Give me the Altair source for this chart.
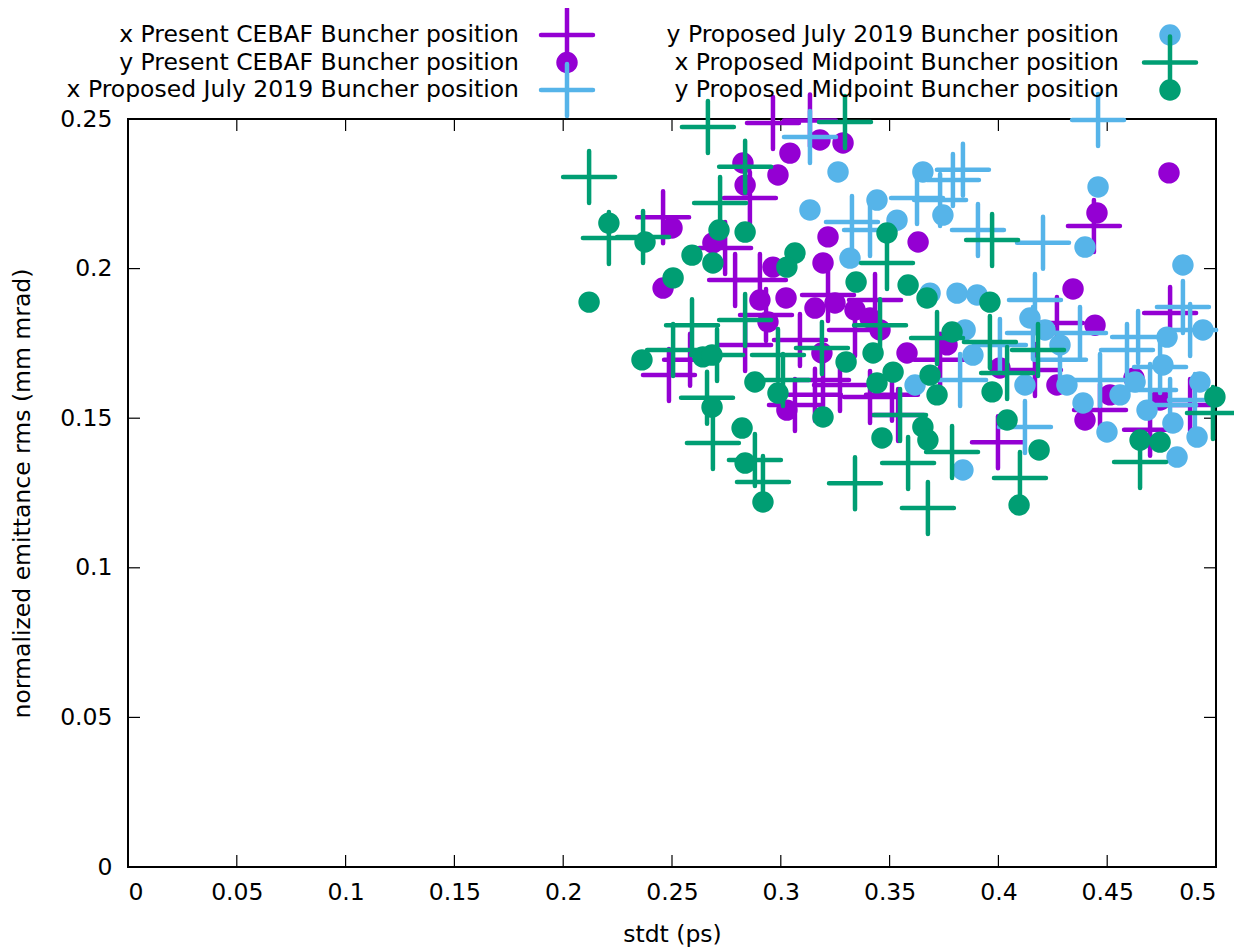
import altair as alt
import pandas as pd

# ---------------- data ----------------
present_x_stdt = [0.2459, 0.2486, 0.2583, 0.2744, 0.2858, 0.2790, 0.2904, 0.2932, 0.2964, 0.3134,
                  0.3065, 0.3088, 0.3157, 0.3217, 0.3272, 0.3341, 0.3433, 0.3511, 0.3539, 0.3410,
                  0.3194, 0.3998, 0.4168, 0.4439, 0.4789, 0.4269, 0.4467, 0.4697, 0.4881, 0.3732,
                  0.2836]
present_x_emit = [0.2172, 0.1644, 0.1695, 0.2069, 0.2236, 0.1962, 0.1962, 0.1845, 0.2487, 0.2495,
                  0.1544, 0.1761, 0.1578, 0.1912, 0.1611, 0.1795, 0.1895, 0.1578, 0.1511, 0.1571,
                  0.1628, 0.1420, 0.1661, 0.2142, 0.1852, 0.1818, 0.1527, 0.1461, 0.1544, 0.1695,
                  0.1745]

present_y_stdt = [0.2459, 0.2500, 0.2688, 0.2826, 0.2836, 0.2987, 0.3042, 0.3180, 0.3286, 0.3217,
                  0.3194, 0.3631, 0.2964, 0.2904, 0.2941, 0.3024, 0.3157, 0.3249, 0.3341, 0.3410,
                  0.3456, 0.3189, 0.3580, 0.3028, 0.3764, 0.4007, 0.4343, 0.4453, 0.4784, 0.4444,
                  0.4269, 0.4398, 0.4513, 0.4623, 0.4743]
present_y_emit = [0.1935, 0.2136, 0.2086, 0.2353, 0.2279, 0.2313, 0.2386, 0.2430, 0.2420, 0.2106,
                  0.2019, 0.2089, 0.2005, 0.1895, 0.1822, 0.1902, 0.1868, 0.1885, 0.1862, 0.1835,
                  0.1795, 0.1718, 0.1718, 0.1527, 0.1745, 0.1668, 0.1932, 0.2186, 0.2320, 0.1811,
                  0.1611, 0.1494, 0.1578, 0.1634, 0.1561]

july_x_stdt = [0.3134, 0.3327, 0.3626, 0.3791, 0.3837, 0.3906, 0.3410, 0.3732, 0.4458, 0.4205,
               0.4168, 0.4642, 0.4591, 0.4375, 0.4848, 0.4159, 0.4122, 0.4743, 0.4467, 0.4903,
               0.4789, 0.3824, 0.4007, 0.4283, 0.4697, 0.4881]
july_x_emit = [0.2440, 0.2156, 0.2236, 0.2296, 0.2330, 0.2129, 0.2129, 0.2229, 0.2497, 0.2086,
               0.1895, 0.1771, 0.1728, 0.1785, 0.1872, 0.1785, 0.1471, 0.1671, 0.1628, 0.1561,
               0.1544, 0.1628, 0.1745, 0.1695, 0.1594, 0.1795]

july_y_stdt = [0.3263, 0.3653, 0.3134, 0.3442, 0.3745, 0.3534, 0.3318, 0.3686, 0.3810, 0.3902,
               0.3847, 0.3883, 0.3617, 0.3837, 0.4145, 0.4214, 0.4283, 0.4122, 0.4315, 0.4389,
               0.4499, 0.4458, 0.4398, 0.4848, 0.4940, 0.4775, 0.4926, 0.4628, 0.4683, 0.4802,
               0.4913, 0.4821, 0.4756, 0.4559]
july_y_emit = [0.2323, 0.2323, 0.2196, 0.2229, 0.2179, 0.2162, 0.2035, 0.1918, 0.1918, 0.1912,
               0.1795, 0.1711, 0.1611, 0.1327, 0.1835, 0.1795, 0.1745, 0.1611, 0.1611, 0.1551,
               0.1454, 0.2273, 0.2072, 0.2012, 0.1795, 0.1771, 0.1621, 0.1621, 0.1527, 0.1484,
               0.1437, 0.1370, 0.1678, 0.1578]

mid_x_stdt = [0.2119, 0.2665, 0.2836, 0.2721, 0.2210, 0.2367, 0.2592, 0.2836, 0.2505, 0.2707,
              0.2987, 0.2661, 0.2688, 0.2881, 0.2918, 0.3295, 0.3971, 0.3488, 0.3456, 0.3189,
              0.3010, 0.3718, 0.3961, 0.3787, 0.3585, 0.3341, 0.3676, 0.4182, 0.4040, 0.4099,
              0.4651, 0.4986, 0.3548]
mid_x_emit = [0.2306, 0.2473, 0.2340, 0.2219, 0.2102, 0.2106, 0.1811, 0.1828, 0.1728, 0.1711,
              0.1711, 0.1568, 0.1417, 0.1360, 0.1287, 0.2490, 0.2096, 0.2019, 0.1811, 0.1735,
              0.1628, 0.1768, 0.1755, 0.1387, 0.1350, 0.1283, 0.1200, 0.1728, 0.1651, 0.1300,
              0.1354, 0.1517, 0.1511]

mid_y_stdt = [0.2119, 0.2210, 0.2376, 0.2362, 0.2505, 0.2592, 0.2688, 0.2716, 0.2836, 0.2642,
              0.2684, 0.2684, 0.2822, 0.2836, 0.2881, 0.2918, 0.2987, 0.3065, 0.3028, 0.3194,
              0.3300, 0.3346, 0.3424, 0.3442, 0.3516, 0.3488, 0.3465, 0.3585, 0.3672, 0.3686,
              0.3718, 0.3653, 0.3676, 0.3787, 0.3961, 0.3971, 0.4040, 0.4095, 0.4187, 0.4651,
              0.4743, 0.4995]
mid_y_emit = [0.1888, 0.2152, 0.2089, 0.1695, 0.1969, 0.2045, 0.2019, 0.2129, 0.2122, 0.1705,
              0.1711, 0.1537, 0.1467, 0.1350, 0.1621, 0.1220, 0.1584, 0.2052, 0.2005, 0.1504,
              0.1688, 0.1955, 0.1718, 0.1618, 0.1654, 0.2119, 0.1434, 0.1945, 0.1902, 0.1644,
              0.1578, 0.1471, 0.1427, 0.1788, 0.1888, 0.1588, 0.1494, 0.1210, 0.1394, 0.1427,
              0.1420, 0.1571]

x_ticks = [0, 0.05, 0.1, 0.15, 0.2, 0.25, 0.3, 0.35, 0.4, 0.45, 0.5]
y_ticks = [0, 0.05, 0.1, 0.15, 0.2, 0.25]

series = [
    ("x Present CEBAF Buncher position", "cross", "#9400D3", present_x_stdt, present_x_emit),
    ("y Present CEBAF Buncher position", "circle", "#9400D3", present_y_stdt, present_y_emit),
    ("x Proposed July 2019 Buncher position", "cross", "#56B4E9", july_x_stdt, july_x_emit),
    ("y Proposed July 2019 Buncher position", "circle", "#56B4E9", july_y_stdt, july_y_emit),
    ("x Proposed Midpoint Buncher position", "cross", "#009E73", mid_x_stdt, mid_x_emit),
    ("y Proposed Midpoint Buncher position", "circle", "#009E73", mid_y_stdt, mid_y_emit),
]

# ---------------- styling ----------------
W, H = 1088, 748
FONT = "DejaVu Sans"
FS = 23.5
CROSS = "M-1,0L1,0M0,-1L0,1"
CROSS_SIZE = 2704
CIRCLE_SIZE = 460
TICK = 12

xscale = alt.Scale(domain=[0, 0.5], nice=False, zero=False)
yscale = alt.Scale(domain=[0, 0.25], nice=False, zero=False)


def point_kw(kind, color):
    if kind == "cross":
        return dict(shape=CROSS, filled=False, stroke=color, strokeWidth=4.5,
                    strokeCap="round", size=CROSS_SIZE, opacity=1)
    return dict(shape="circle", filled=True, fill=color, strokeWidth=0,
                size=CIRCLE_SIZE, opacity=1)


layers = []

xt = pd.DataFrame({"t": x_ticks})
yt = pd.DataFrame({"t": y_ticks})

layers.append(alt.Chart(xt).mark_rule(strokeWidth=1.2, color="black").encode(
    x=alt.X("t:Q", scale=xscale,
            axis=alt.Axis(values=x_ticks, format="~g", title="stdt (ps)", ticks=False,
                          domain=False, grid=False, tickSize=0, labelPadding=13,
                          labelFontSize=FS, labelFont=FONT, labelColor="black",
                          titleFontSize=FS, titleFont=FONT, titleFontWeight="normal",
                          titleColor="black", titleX=544, titleY=67, titleBaseline="middle",
                          titleAlign="center")),
    y=alt.value(H), y2=alt.value(H - TICK),
))
layers.append(alt.Chart(xt).mark_rule(strokeWidth=1.2, color="black").encode(
    x=alt.X("t:Q", scale=xscale), y=alt.value(0), y2=alt.value(TICK)))

layers.append(alt.Chart(yt).mark_rule(strokeWidth=1.2, color="black").encode(
    y=alt.Y("t:Q", scale=yscale,
            axis=alt.Axis(values=y_ticks, format="~g",
                          title="normalized emittance rms (mm mrad)", ticks=False,
                          domain=False, grid=False, tickSize=0, labelPadding=16,
                          labelFontSize=FS, labelFont=FONT, labelColor="black",
                          titleFontSize=FS, titleFont=FONT, titleFontWeight="normal",
                          titleColor="black", titleX=-106, titleY=H / 2, titleAngle=-90,
                          titleBaseline="middle", titleAlign="center")),
    x=alt.value(0), x2=alt.value(TICK),
))
layers.append(alt.Chart(yt).mark_rule(strokeWidth=1.2, color="black").encode(
    y=alt.Y("t:Q", scale=yscale), x=alt.value(W), x2=alt.value(W - TICK)))

for label, kind, color, xs, ys in series:
    df = pd.DataFrame({"stdt": xs, "emit": ys})
    layers.append(alt.Chart(df).mark_point(**point_kw(kind, color)).encode(
        x=alt.X("stdt:Q", scale=xscale),
        y=alt.Y("emit:Q", scale=yscale),
    ))

one = alt.Data(values=[{"k": 0}])
col_text_x = [391, 991]
col_sym_x = [439, 1042]
row_y0, row_dy = -84, 27.5
for i, (label, kind, color, xs, ys) in enumerate(series):
    c, r = divmod(i, 3)
    yy = row_y0 + r * row_dy
    layers.append(alt.Chart(one).mark_text(align="right", baseline="middle", fontSize=FS,
                                           font=FONT, color="black").encode(
        x=alt.value(col_text_x[c]), y=alt.value(yy), text=alt.value(label)))
    layers.append(alt.Chart(one).mark_point(**point_kw(kind, color)).encode(
        x=alt.value(col_sym_x[c]), y=alt.value(yy)))

chart = alt.layer(*layers).properties(
    width=W, height=H,
    autosize=alt.AutoSizeParams(type="none"),
    padding={"left": 120, "top": 111, "right": 18, "bottom": 80},
    background="white",
).configure_view(stroke="black", strokeWidth=2)

chart.save("out.html", embed_options={"renderer": "svg", "actions": False})
